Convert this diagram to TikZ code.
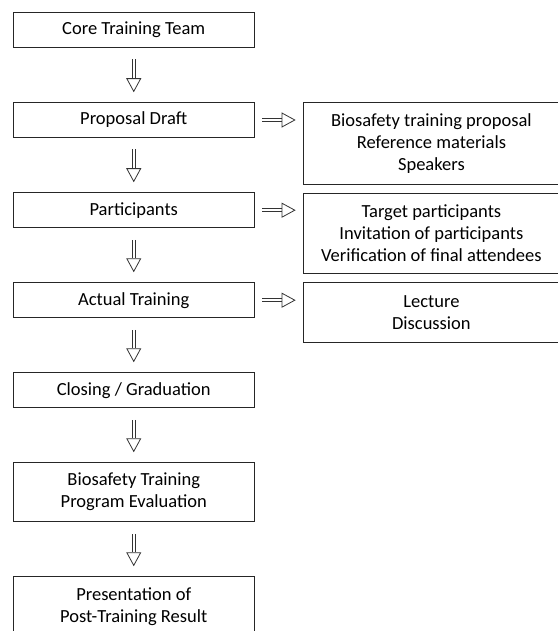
\documentclass[tikz,border=0pt]{standalone}
\usepackage{fontspec}
\setmainfont{Carlito}
\usetikzlibrary{arrows.meta}
\begin{document}
\begin{tikzpicture}[x=1pt,y=-1pt,
    stage/.style={draw=black!85,line width=0.9pt,minimum width=240.5pt,align=center,inner sep=0pt,
      font=\fontsize{18.5}{22}\selectfont},
    detail/.style={stage,minimum width=256pt},
    flow/.style={draw=black!80,line width=0.8pt,double=white,double distance=2pt,
      -{Triangle[open,length=14pt,width=15pt,line width=0.8pt]}}]
  \useasboundingbox (0,0) rectangle (557,631);
  % left column
  \node[stage,minimum height=34.6pt] (core) at (133.75,30) {Core Training Team};
  \node[stage,minimum height=34.6pt] (draft) at (133.75,120) {Proposal Draft};
  \node[stage,minimum height=35pt] (part) at (133.75,210.2) {Participants};
  \node[stage,minimum height=35pt] (actual) at (133.75,300.2) {Actual Training};
  \node[stage,minimum height=35pt] (closing) at (133.75,390.2) {Closing / Graduation};
  \node[stage,minimum height=59pt] (eval) at (133.75,492.2) {Biosafety Training\\Program Evaluation};
  \node[stage,minimum height=59pt] (result) at (133.75,606.2) {Presentation of\\Post-Training Result};
  % right column
  \node[detail,minimum height=81.3pt] (draftinfo) at (431.4,143.3) {Biosafety training proposal\\Reference materials\\Speakers};
  \node[detail,minimum height=80pt] (partinfo) at (431.4,233.3) {Target participants\\Invitation of participants\\Verification of final attendees};
  \node[detail,minimum height=59.6pt] (actualinfo) at (431.4,312.5) {Lecture\\Discussion};
  % arrows
  \foreach \a/\b in {core/draft,draft/part,part/actual,actual/closing,closing/eval,eval/result}
    \draw[flow,shorten <=11.7pt,shorten >=10pt] (\a) -- (\b);
  \foreach \a/\b in {draft/draftinfo,part/partinfo,actual/actualinfo}
    \draw[flow,shorten <=8pt,shorten >=7.3pt] (\a.east) -- (\a.east -| \b.west);
\end{tikzpicture}
\end{document}
